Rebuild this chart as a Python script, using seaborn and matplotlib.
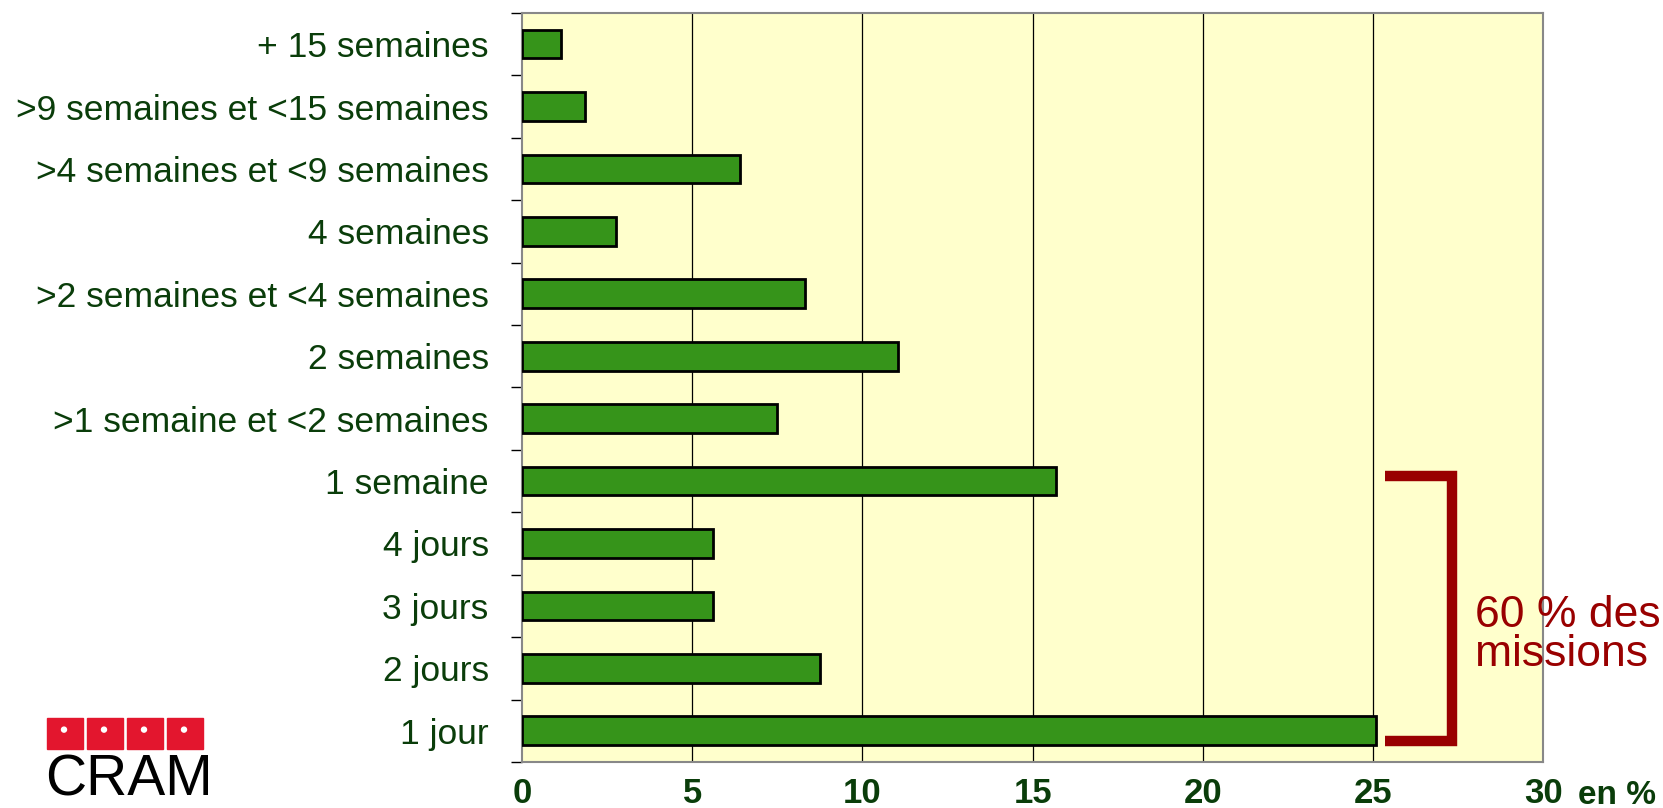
import numpy as np
import pandas as pd
import seaborn as sns
import matplotlib.pyplot as plt
from matplotlib.patches import Rectangle, Ellipse

# Data

durees = ["+ 15 semaines", ">9 semaines et <15 semaines", ">4 semaines et <9 semaines",
          "4 semaines", ">2 semaines et <4 semaines", "2 semaines",
          ">1 semaine et <2 semaines", "1 semaine", "4 jours", "3 jours",
          "2 jours", "1 jour"]
pourcentages = [1.15, 1.85, 6.4, 2.75, 8.3, 11.05, 7.5, 15.7, 5.6, 5.6, 8.75, 25.1]
x_ticks = [0, 5, 10, 15, 20, 25, 30]
bracket_from, bracket_to = "1 semaine", "1 jour"
bracket_text = "60 % des\nmissions"

GREEN = "#36941a"
TEXT_GREEN = "#0a3d0a"
DARK_RED = "#990000"

df = pd.DataFrame({"duree": durees, "pct": pourcentages})

sns.set_style("white")
plt.rcParams['font.family'] = ['Liberation Sans', 'DejaVu Sans']

fig = plt.figure(figsize=(16.63, 8.08), dpi=100)
ax = fig.add_axes([0.3139, 0.057, 0.6141, 0.927])
ax.set_facecolor("#ffffcc")

sns.barplot(data=df, x="pct", y="duree", order=durees, color=GREEN,
            saturation=1, width=0.46, edgecolor="black", linewidth=2, ax=ax, zorder=3)

ax.set_xlim(0, 30)
ax.set_ylim(len(durees) - 0.5, -0.5)
ax.set_xlabel("")
ax.set_ylabel("")

# vertical grid lines
for v in x_ticks[1:-1]:
    ax.axvline(v, color="black", lw=0.9, zorder=1)

ax.set_xticks(x_ticks)
ax.set_xticklabels([str(t) for t in x_ticks], fontsize=25, fontweight="bold", color=TEXT_GREEN)
ax.tick_params(axis="x", length=10, width=1, color="black", pad=1, direction="out")
ax.tick_params(axis="y", length=0, pad=24)
ax.set_yticks(range(len(durees)))
ax.set_yticklabels(durees, fontsize=25.5, color=TEXT_GREEN)
ax.set_yticks(np.arange(-0.5, len(durees), 1), minor=True)
ax.tick_params(axis="y", which="minor", length=8, width=1, color="black", left=True)

for s in ax.spines.values():
    s.set_color("#888888")
    s.set_linewidth(1.5)

fig.text(0.949, 0.016, "en %", fontsize=24, fontweight="bold",
         color=TEXT_GREEN, ha="left", va="center")

# bracket around the short missions
y0 = durees.index(bracket_from) - 0.08
y1 = durees.index(bracket_to) + 0.17
ax.plot([25.35, 27.33, 27.33, 25.35], [y0, y0, y1, y1], color=DARK_RED, lw=7.5,
        solid_joinstyle="miter", solid_capstyle="butt", clip_on=False, zorder=4)
ax.text(28.0, (y0 + y1) / 2 + 0.42, bracket_text, fontsize=32, color=DARK_RED,
        ha="left", va="center", linespacing=0.95, clip_on=False, zorder=5)

# CRAM logo
for i in range(4):
    x = (47 + i * 40) / 1663
    fig.patches.append(Rectangle((x, 0.073), 36 / 1663, 0.038,
                                 transform=fig.transFigure, color="#e3162e"))
    fig.patches.append(Ellipse((x + 17 / 1663, 0.097), 5 / 1663, 5 / 808,
                               transform=fig.transFigure, color="white"))
fig.text(0.027, 0.001, "CRAM", fontsize=41, color="black", ha="left", va="bottom")

fig.savefig("out.png", dpi=100)
